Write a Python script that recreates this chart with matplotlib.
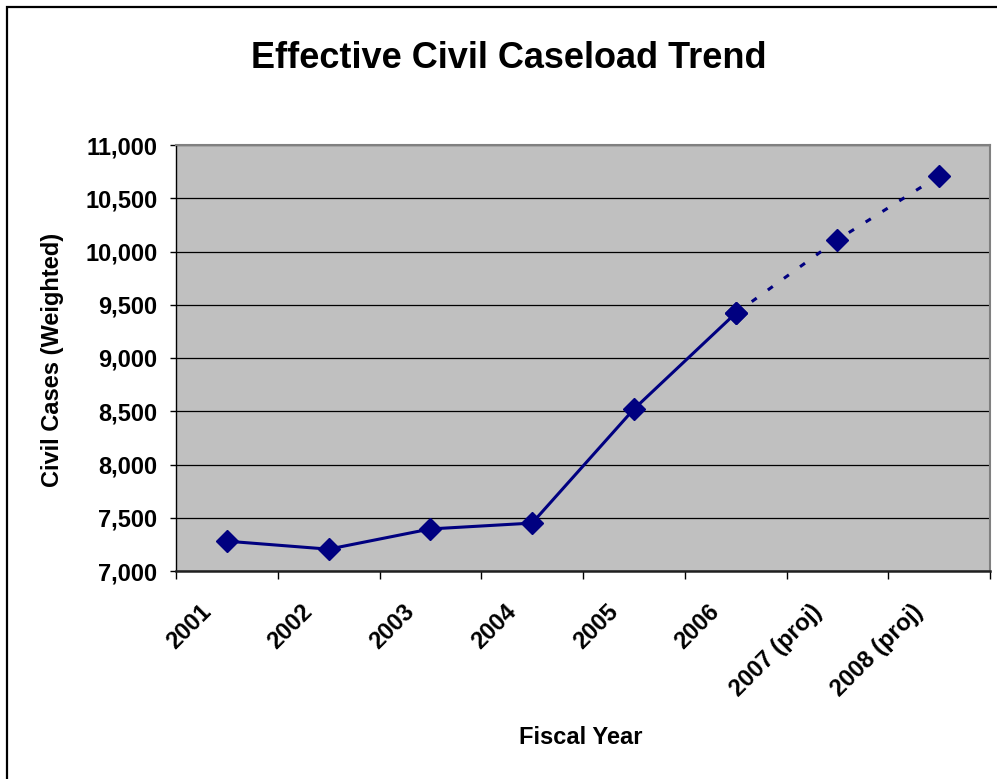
import matplotlib
matplotlib.use("Agg")
import matplotlib.pyplot as plt
from matplotlib.patches import Rectangle
from matplotlib.ticker import FixedLocator, FuncFormatter, NullFormatter

# Fiscal years and weighted civil caseload
years = ["2001", "2002", "2003", "2004", "2005", "2006", "2007 (proj)", "2008 (proj)"]
actual = [7280, 7205, 7395, 7450, 8520, 9420]
projected = [10110, 10710]

NAVY = "#000080"
PLOT_BG = "#c0c0c0"

plt.rcParams["font.family"] = ["Liberation Sans", "DejaVu Sans"]

fig = plt.figure(figsize=(9.97, 7.79), dpi=100, facecolor="white")
ax = fig.add_axes([176 / 997, 1 - 571 / 779, (990 - 176) / 997, (571 - 145) / 779])
ax.set_facecolor(PLOT_BG)

x_actual = list(range(len(actual)))
x_proj = list(range(len(actual) - 1, len(years)))

# projection continues from the last actual year as a dotted line
ax.plot(x_proj, [actual[-1]] + projected, color=NAVY, lw=2.2,
        linestyle=(0, (2, 4.5)), marker="D", markersize=10.8,
        markerfacecolor=NAVY, markeredgecolor=NAVY, zorder=3)
ax.plot(x_actual, actual, color=NAVY, lw=2.2, marker="D", markersize=10.8,
        markerfacecolor=NAVY, markeredgecolor=NAVY, zorder=4)

ax.set_xlim(-0.5, len(years) - 0.5)
ax.set_ylim(7000, 11000)

# y axis
ax.set_yticks(range(7000, 11001, 500))
ax.yaxis.set_major_formatter(FuncFormatter(lambda v, p: f"{int(v):,}"))
ax.yaxis.grid(True, color="black", lw=0.9)
ax.set_axisbelow(True)
ax.tick_params(axis="y", direction="out", length=4.5, width=1, pad=9)
for lbl in ax.get_yticklabels():
    lbl.set_fontsize(17)
    lbl.set_fontweight("bold")

# x axis: tick marks on category boundaries, slanted labels under each category
ax.xaxis.set_major_locator(FixedLocator([i - 0.5 for i in range(len(years) + 1)]))
ax.xaxis.set_major_formatter(NullFormatter())
ax.tick_params(axis="x", direction="out", length=5.5, width=1, color="black")
for i, yr in enumerate(years):
    ax.annotate(yr, xy=(i, 0), xycoords=("data", "axes fraction"),
                xytext=(-14, -27), textcoords="offset points",
                rotation=45, rotation_mode="anchor", ha="right", va="center",
                fontsize=17, fontweight="bold")

for side in ("top", "right"):
    ax.spines[side].set_color("#808080")
    ax.spines[side].set_linewidth(1.5)
ax.spines["left"].set_color("black")
ax.spines["left"].set_linewidth(1)
ax.spines["bottom"].set_color("#202020")
ax.spines["bottom"].set_linewidth(1.8)

ax.set_ylabel("Civil Cases (Weighted)", fontsize=17, fontweight="bold", va="center")
ax.yaxis.set_label_coords(-0.152, 0.495)
ax.set_xlabel("Fiscal Year", fontsize=17, fontweight="bold", va="center")
ax.xaxis.set_label_coords(0.4975, -0.39)

fig.text(509 / 997, 1 - 59 / 779, "Effective Civil Caseload Trend",
         ha="center", va="center", fontsize=26, fontweight="bold")

# chart border (runs off the right and bottom edges)
fig.add_artist(Rectangle((7 / 997, -0.1), 1.2, 1 - 7 / 779 + 0.1,
                         transform=fig.transFigure, fill=False,
                         edgecolor="black", lw=1.6))

fig.savefig("out.png", dpi=100, facecolor="white")
